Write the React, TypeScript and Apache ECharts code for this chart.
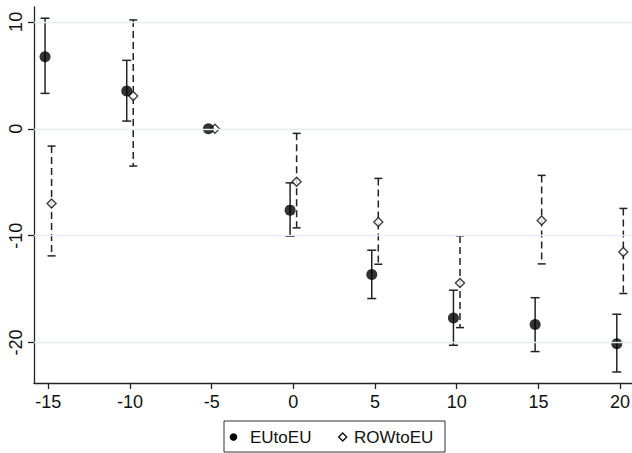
import React, { useEffect, useRef } from "react";
import * as echarts from "echarts";

const years = [-15, -10, -5, 0, 5, 10, 15, 20];
const euEst = [6.74, 3.53, 0, -7.61, -13.63, -17.7, -18.3, -20.1];
const euLow = [3.31, 0.72, null, -10.05, -15.88, -20.25, -20.84, -22.75];
const euHigh = [10.34, 6.4, null, -5.06, -11.36, -15.1, -15.8, -17.35];
const rowEst = [-6.99, 3.06, 0, -4.96, -8.71, -14.42, -8.58, -11.52];
const rowLow = [-11.89, -3.49, null, -9.27, -12.67, -18.6, -12.64, -15.41];
const rowHigh = [-1.62, 10.18, null, -0.43, -4.64, -10.02, -4.36, -7.45];
const xTicks = [-15, -10, -5, 0, 5, 10, 15, 20];
const yTicks = [-20, -10, 0, 10];
const seriesNames = ["EUtoEU", "ROWtoEU"];

const OFFSET = 0.2;
const FONT = "'Liberation Sans', Arial, sans-serif";

function errorData(est: (number | null)[], lo: (number | null)[], hi: (number | null)[], off: number) {
  const out: number[][] = [];
  years.forEach((y, i) => {
    if (lo[i] != null && hi[i] != null) out.push([y + off, lo[i] as number, hi[i] as number]);
  });
  return out;
}

function makeRender(dashed: boolean, capHalf: number) {
  return (params: any, api: any) => {
    const x = api.value(0);
    const lo = api.value(1);
    const hi = api.value(2);
    const top = api.coord([x, hi]);
    const bot = api.coord([x, lo]);
    const stroke = "#222";
    return {
      type: "group",
      children: [
        {
          type: "line",
          shape: { x1: top[0], y1: top[1], x2: bot[0], y2: bot[1] },
          style: { stroke, lineWidth: 1.5, lineDash: dashed ? [7, 4] : null },
        },
        {
          type: "line",
          shape: { x1: top[0] - capHalf, y1: top[1], x2: top[0] + capHalf, y2: top[1] },
          style: { stroke, lineWidth: 1.5 },
        },
        {
          type: "line",
          shape: { x1: bot[0] - capHalf, y1: bot[1], x2: bot[0] + capHalf, y2: bot[1] },
          style: { stroke, lineWidth: 1.5 },
        },
      ],
    };
  };
}

export default function App() {
  const ref = useRef<HTMLDivElement>(null);
  useEffect(() => {
    if (!ref.current) return;
    const chart = echarts.init(ref.current, null, { renderer: "svg" });
    const option: any = {
      animation: false,
      backgroundColor: "#fff",
      grid: { left: 34, right: 0, top: 7, bottom: 70, containLabel: false, outerBoundsMode: "none" },
      xAxis: {
        type: "value",
        min: -15.876,
        max: 20.73,
        splitLine: { show: false },
        axisLine: { show: true, onZero: false, lineStyle: { color: "#222", width: 1.3 } },
        axisTick: { show: true, length: 6, customValues: xTicks, lineStyle: { color: "#222", width: 1.3 } },
        axisLabel: { customValues: xTicks, fontSize: 18, color: "#111", fontFamily: FONT, margin: 10 },
      },
      yAxis: {
        type: "value",
        min: -23.78,
        max: 11.39,
        splitLine: { show: false },
        axisLine: { show: true, onZero: false, lineStyle: { color: "#222", width: 1.3 } },
        axisTick: { show: true, length: 6, customValues: yTicks, lineStyle: { color: "#222", width: 1.3 } },
        axisLabel: { customValues: yTicks, fontSize: 18, color: "#111", fontFamily: FONT, rotate: 90, margin: 9 },
      },
      series: [
        {
          type: "line",
          data: [],
          z: 0,
          silent: true,
          markLine: {
            silent: true,
            symbol: "none",
            label: { show: false },
            lineStyle: { color: "#e6eef1", type: "solid", width: 1.3 },
            data: yTicks.map((v) => ({ yAxis: v })),
          },
        },
        {
          type: "custom",
          name: seriesNames[1] + " CI",
          renderItem: makeRender(true, 4),
          data: errorData(rowEst, rowLow, rowHigh, OFFSET),
          encode: { x: 0, y: [1, 2] },
          z: 2,
        },
        {
          type: "custom",
          name: seriesNames[0] + " CI",
          renderItem: makeRender(false, 4.5),
          data: errorData(euEst, euLow, euHigh, -OFFSET),
          encode: { x: 0, y: [1, 2] },
          z: 2,
        },
        {
          type: "scatter",
          name: seriesNames[1],
          symbol: "diamond",
          symbolSize: 9,
          itemStyle: { color: "#fff", borderColor: "#111", borderWidth: 1.4 },
          data: years.map((y, i) => [y + OFFSET, rowEst[i]]),
          z: 3,
        },
        {
          type: "scatter",
          name: seriesNames[0],
          symbol: "circle",
          symbolSize: 11,
          itemStyle: { color: "#000" },
          data: years.map((y, i) => [y - OFFSET, euEst[i]]),
          z: 4,
        },
      ],
      graphic: [
        {
          type: "rect",
          shape: { x: 224, y: 421, width: 221, height: 31 },
          style: { fill: "#fff", stroke: "#333", lineWidth: 1 },
        },
        { type: "circle", shape: { cx: 233.5, cy: 437, r: 3.8 }, style: { fill: "#000" } },
        {
          type: "text",
          x: 250,
          y: 437,
          style: { text: seriesNames[0], fontSize: 17, fontFamily: FONT, fill: "#111", verticalAlign: "middle" },
        },
        {
          type: "polygon",
          shape: { points: [[342.7, 433], [346.7, 437], [342.7, 441], [338.7, 437]] },
          style: { fill: "#fff", stroke: "#111", lineWidth: 1.4 },
        },
        {
          type: "text",
          x: 354,
          y: 437,
          style: { text: seriesNames[1], fontSize: 17, fontFamily: FONT, fill: "#111", verticalAlign: "middle" },
        },
      ],
    };
    chart.setOption(option);
    return () => chart.dispose();
  }, []);
  return (
    <div
      ref={ref}
      style={{ position: "absolute", left: 0, top: 0, width: 632, height: 453, background: "#fff" }}
    />
  );
}
